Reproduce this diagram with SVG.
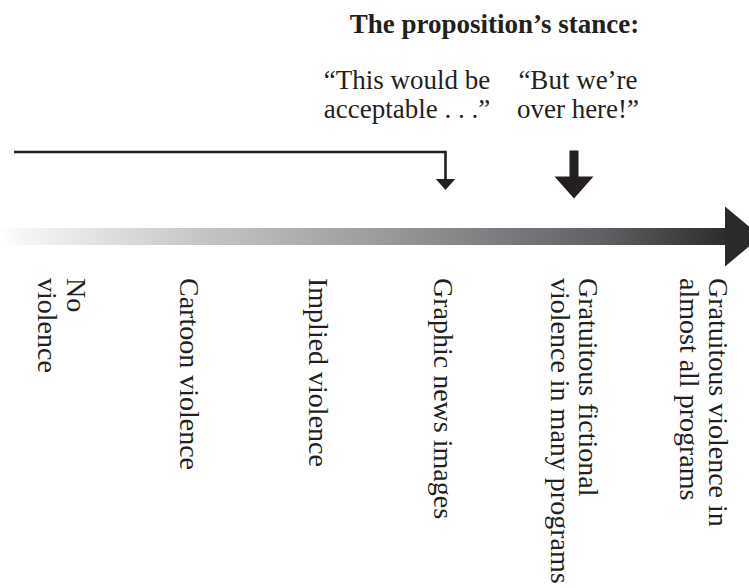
<svg xmlns="http://www.w3.org/2000/svg" width="749" height="588" viewBox="0 0 749 588">
<style>
  text { font-family: "Liberation Serif", "Times New Roman", serif; font-size: 27px; fill: #231f20; }
  .title { font-weight: bold; }
  .lbl { font-size: 28px; }
  .ink { fill: #231f20; }
  .thin { fill: none; stroke: #231f20; stroke-width: 2.6; }
</style>
<defs>
  <linearGradient id="scale" x1="0" y1="0" x2="725" y2="0" gradientUnits="userSpaceOnUse">
    <stop offset="0" stop-color="#ffffff"/>
    <stop offset="0.03" stop-color="#f6f6f7"/>
    <stop offset="0.28" stop-color="#c4c5c7"/>
    <stop offset="0.52" stop-color="#9b9c9e"/>
    <stop offset="0.83" stop-color="#606164"/>
    <stop offset="1" stop-color="#2d2c2e"/>
  </linearGradient>
</defs>
<rect width="749" height="588" fill="#ffffff"/>

<g id="scale-axis">
  <rect x="0" y="228" width="726" height="17" fill="url(#scale)"/>
  <polygon points="725,206.5 761,236.5 725,266.5" fill="#2b2a2b"/>
</g>

<g id="title">
  <text class="title" x="494.5" y="33" text-anchor="middle">The proposition’s stance:</text>
</g>

<g id="quote-acceptable">
  <text x="407" y="89" text-anchor="middle">“This would be</text>
  <text x="407" y="118" text-anchor="middle">acceptable . . .”</text>
</g>

<g id="quote-over-here">
  <text x="578" y="89" text-anchor="middle">“But we’re</text>
  <text x="578" y="118" text-anchor="middle">over here!”</text>
</g>

<g id="connectors">
  <polyline class="thin" points="14,152 445.5,152 445.5,180"/>
  <polygon class="ink" points="435.8,179 455.2,179 445.5,190"/>
  <rect class="ink" x="569.5" y="150.5" width="9" height="27"/>
  <polygon class="ink" points="554.5,176.5 593.5,176.5 574,198.5"/>
</g>

<g id="label-no-violence">
  <text class="lbl" transform="translate(66.5,278) rotate(90)">No</text>
  <text class="lbl" transform="translate(37.5,278) rotate(90)">violence</text>
</g>

<g id="label-cartoon">
  <text class="lbl" transform="translate(180,278) rotate(90)">Cartoon violence</text>
</g>

<g id="label-implied">
  <text class="lbl" transform="translate(308.5,278) rotate(90)">Implied violence</text>
</g>

<g id="label-graphic-news">
  <text class="lbl" transform="translate(433.5,278) rotate(90)">Graphic news images</text>
</g>

<g id="label-fictional">
  <text class="lbl" transform="translate(578.5,278) rotate(90)">Gratuitous fictional</text>
  <text class="lbl" transform="translate(550.5,278) rotate(90)">violence in many programs</text>
</g>

<g id="label-almost-all">
  <text class="lbl" transform="translate(708.5,278) rotate(90)">Gratuitous violence in</text>
  <text class="lbl" transform="translate(679.5,278) rotate(90)">almost all programs</text>
</g>
</svg>
